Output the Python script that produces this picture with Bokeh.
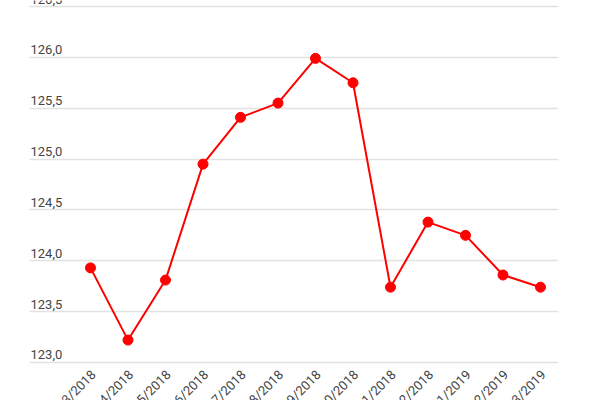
import math
from bokeh.plotting import figure
from bokeh.models import FixedTicker, Range1d, ColumnDataSource
from bokeh.core.properties import value
from bokeh.embed import file_html
from bokeh.resources import INLINE

months = ["03/2018", "04/2018", "05/2018", "06/2018", "07/2018", "08/2018", "09/2018",
          "10/2018", "11/2018", "12/2018", "01/2019", "02/2019", "03/2019"]
values = [123.93, 123.22, 123.81, 124.95, 125.41, 125.55, 125.99,
          125.75, 123.74, 124.38, 124.25, 123.86, 123.74]
y_ticks = [123.0, 123.5, 124.0, 124.5, 125.0, 125.5, 126.0, 126.5]
y_labels = ["123,0", "123,5", "124,0", "124,5", "125,0", "125,5", "126,0", "126,5"]

xs = list(range(len(months)))
x_start, x_end = -1.627, 12.48
y_base = y_ticks[0]

p = figure(width=600, height=400, output_backend="svg", toolbar_location=None,
           x_range=Range1d(x_start, x_end), y_range=Range1d(122.626, 126.559),
           x_axis_location=None, y_axis_location=None,
           min_border_left=29, min_border_right=42,
           min_border_top=0, min_border_bottom=0)
p.outline_line_color = None
p.background_fill_color = "white"
p.border_fill_color = "white"

p.xgrid.visible = False
p.ygrid.ticker = FixedTicker(ticks=y_ticks)
p.ygrid.grid_line_color = "#e2e2e2"
p.ygrid.grid_line_width = 1.5

# x category labels (rotated), drawn below the baseline
xl_src = ColumnDataSource(dict(x=xs, y=[y_base] * len(xs), t=months))
p.text(x="x", y="y", text="t", source=xl_src, angle=math.pi / 4,
       text_font=value("Roboto"), text_font_size="13px", text_color="#444444",
       text_align="right", text_baseline="middle", x_offset=3, y_offset=10)

# y value labels, sitting above each gridline at the left
lab_src = ColumnDataSource(dict(x=[x_start] * len(y_ticks), y=y_ticks, t=y_labels))
p.text(x="x", y="y", text="t", source=lab_src, text_font=value("Roboto"),
       text_font_size="13px", text_color="#444444", text_baseline="bottom",
       text_align="left", x_offset=1, y_offset=-3)

src = ColumnDataSource(dict(x=xs, y=values))
p.line("x", "y", source=src, line_color="#ff0000", line_width=2)
p.scatter("x", "y", source=src, size=10, fill_color="#ff0000", line_color="#ff0000")

open("out.html", "w").write(file_html(p, INLINE))
